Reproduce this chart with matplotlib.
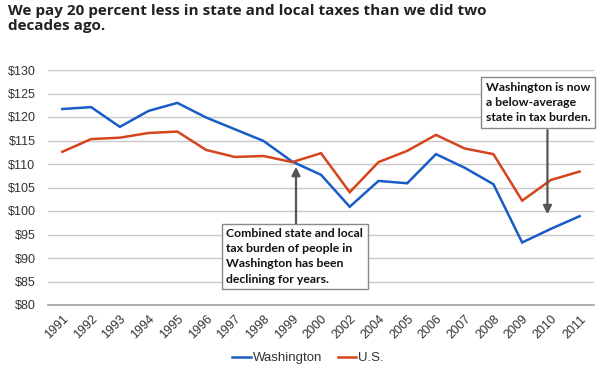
import matplotlib
matplotlib.use("Agg")
import matplotlib.pyplot as plt
from matplotlib.ticker import FuncFormatter

years = ["1991", "1992", "1993", "1994", "1995", "1996", "1997", "1998", "1999", "2000",
         "2002", "2004", "2005", "2006", "2007", "2008", "2009", "2010", "2011"]
washington = [121.7, 122.1, 117.9, 121.3, 123.0, 119.9, 117.4, 114.9, 110.5, 107.7,
              100.9, 106.4, 105.9, 112.1, 109.2, 105.7, 93.3, 96.2, 98.9]
us = [112.6, 115.3, 115.6, 116.6, 116.9, 113.0, 111.5, 111.7, 110.4, 112.3,
      104.0, 110.4, 112.8, 116.2, 113.3, 112.1, 102.2, 106.6, 108.4]
yticks = list(range(80, 131, 5))

title = "We pay 20 percent less in state and local taxes than we did two\ndecades ago."
note1 = "Combined state and local\ntax burden of people in\nWashington has been\ndeclining for years."
note2 = "Washington is now\na below-average\nstate in tax burden."

BLUE = "#1a5cc6"
RED = "#d4451d"
TXT = "#333333"

fig = plt.figure(figsize=(6.0, 3.72), dpi=100)
ax = fig.add_axes([48/600, 1-305/372, 546/600, 235/372])

x = list(range(len(years)))
ax.plot(x, washington, color=BLUE, lw=1.8, label="Washington", solid_joinstyle="miter")
ax.plot(x, us, color=RED, lw=1.8, label="U.S.", solid_joinstyle="miter")

ax.set_xlim(-0.5, len(years) - 0.5)
ax.set_ylim(80, 130)
ax.set_yticks(yticks)
ax.yaxis.set_major_formatter(FuncFormatter(lambda v, p: f"${v:.0f}"))
ax.set_xticks(x)
ax.set_xticklabels(years, rotation=45, ha="right", va="top", rotation_mode="anchor")
ax.tick_params(axis="both", length=0, labelsize=9, colors=TXT, labelfontfamily="Liberation Sans")
ax.tick_params(axis="x", pad=6)
ax.tick_params(axis="y", pad=9)
ax.grid(axis="y", color="#c8c8c8", lw=1)
ax.set_axisbelow(True)
for s in ["top", "right", "left"]:
    ax.spines[s].set_visible(False)
ax.spines["bottom"].set_color("#a0a0a0")
ax.spines["bottom"].set_linewidth(1.2)

fig.text(8/600, 1-4/372, title, ha="left", va="top", fontsize=11, fontweight="bold",
         family="Open Sans", color="#222222", linespacing=1.08)

# annotation boxes
bbox = dict(boxstyle="square,pad=0.4", fc="white", ec="#888888", lw=1)
ax.text(5.71, 96.3, note1, ha="left", va="top", fontsize=8.8, fontweight="bold",
        family="Lato", color="#111111", bbox=bbox, linespacing=1.45, zorder=5)
ax.text(14.74, 127.4, note2, ha="left", va="top", fontsize=8.8, fontweight="bold",
        family="Lato", color="#111111", bbox=bbox, linespacing=1.45, zorder=5)

arrow = dict(arrowstyle="-|>,head_length=0.5,head_width=0.25", color="#555555", lw=1.6,
             shrinkA=0, shrinkB=0)
ax.annotate("", xy=(8.13, 109.4), xytext=(8.13, 97.0), arrowprops=arrow, zorder=4)
ax.annotate("", xy=(16.88, 99.3), xytext=(16.88, 117.2), arrowprops=arrow, zorder=4)

leg = fig.legend(loc="center", bbox_to_anchor=(308/600, 1-358/372), ncol=2, frameon=False,
                 prop={"family": "Liberation Sans", "size": 9.5}, handlelength=1.4,
                 handletextpad=0.15, columnspacing=1.2)
for t in leg.get_texts():
    t.set_color(TXT)

fig.savefig("out.png", dpi=100, facecolor="white")
